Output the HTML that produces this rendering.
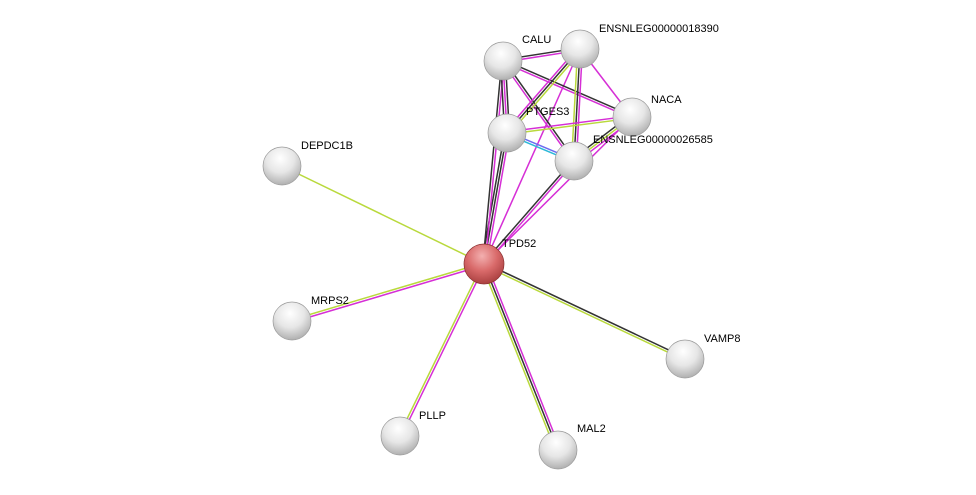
<!DOCTYPE html>
<html><head><meta charset="utf-8"><style>
html,body{margin:0;padding:0;background:#fff;width:976px;height:495px;overflow:hidden}
text{font-family:"Liberation Sans",Arial,sans-serif;font-size:11px;fill:#000}
</style></head><body>
<svg id="s" width="976" height="495" xmlns="http://www.w3.org/2000/svg">
<defs>
<radialGradient id="g" cx="0.45" cy="0.3" r="0.75">
<stop offset="0" stop-color="#ffffff"/><stop offset="0.5" stop-color="#e6e6e6"/><stop offset="1" stop-color="#a8a8a8"/></radialGradient>
<radialGradient id="r" cx="0.45" cy="0.3" r="0.75">
<stop offset="0" stop-color="#f3b0b0"/><stop offset="0.5" stop-color="#d96a6a"/><stop offset="1" stop-color="#a33a3a"/></radialGradient>
</defs>
<g id="edges"></g><g id="nodes"></g>
</svg>
<script>
var N={CALU:[503,61],E18:[580,49],NACA:[632,117],PTG:[507,133],E26:[574,161],DEP:[282,166],TPD:[484,264],MRP:[292,321],VAMP:[685,359],PLLP:[400,436],MAL2:[558,450]};
var K="#333",M="#d62fd6",Y="#b9d93c",B="#6c6cf0",C="#2cb8d8";
var E=[["TPD","DEP",[Y]],["TPD","MRP",[M,Y]],["TPD","PLLP",[M,Y]],["TPD","MAL2",[M,K,Y]],["TPD","VAMP",[K,Y]],
["TPD","PTG",[K,K,M]],["TPD","CALU",[K,M]],["TPD","E18",[M]],["TPD","E26",[K,M]],["TPD","NACA",[M]],
["CALU","E18",[K,M]],["CALU","PTG",[K,M,K]],["CALU","NACA",[K,M]],["CALU","E26",[K,M]],
["E18","PTG",[Y,K,M]],["E18","NACA",[M]],["E18","E26",[M,K,Y]],["PTG","NACA",[M,Y]],["PTG","E26",[B,C]],["NACA","E26",[M,Y,K]]];
var ns="http://www.w3.org/2000/svg",eg=document.getElementById("edges"),ng=document.getElementById("nodes");
E.forEach(function(e){var a=N[e[0]],b=N[e[1]],dx=b[0]-a[0],dy=b[1]-a[1],l=Math.hypot(dx,dy),px=-dy/l,py=dx/l,n=e[2].length;
e[2].forEach(function(c,i){var o=(i-(n-1)/2)*2.4;var ln=document.createElementNS(ns,"line");
ln.setAttribute("x1",a[0]+px*o);ln.setAttribute("y1",a[1]+py*o);ln.setAttribute("x2",b[0]+px*o);ln.setAttribute("y2",b[1]+py*o);
ln.setAttribute("stroke",c);ln.setAttribute("stroke-width","1.5");eg.appendChild(ln);});});
var L={CALU:["CALU",522,43],E18:["ENSNLEG00000018390",599,32],NACA:["NACA",651,103],PTG:["PTGES3",526,115],E26:["ENSNLEG00000026585",593,143],DEP:["DEPDC1B",301,149],TPD:["TPD52",502,247],MRP:["MRPS2",311,304],VAMP:["VAMP8",704,342],PLLP:["PLLP",419,419],MAL2:["MAL2",577,432]};
for(var k in N){var p=N[k],c=document.createElementNS(ns,"circle");c.setAttribute("cx",p[0]);c.setAttribute("cy",p[1]);c.setAttribute("r",k=="TPD"?20:19);
c.setAttribute("fill",k=="TPD"?"url(#r)":"url(#g)");c.setAttribute("stroke",k=="TPD"?"#8a3030":"#999");c.setAttribute("stroke-width","0.7");ng.appendChild(c);
var t=document.createElementNS(ns,"text");t.setAttribute("x",L[k][1]);t.setAttribute("y",L[k][2]);t.textContent=L[k][0];ng.appendChild(t);}
</script>
</body></html>
